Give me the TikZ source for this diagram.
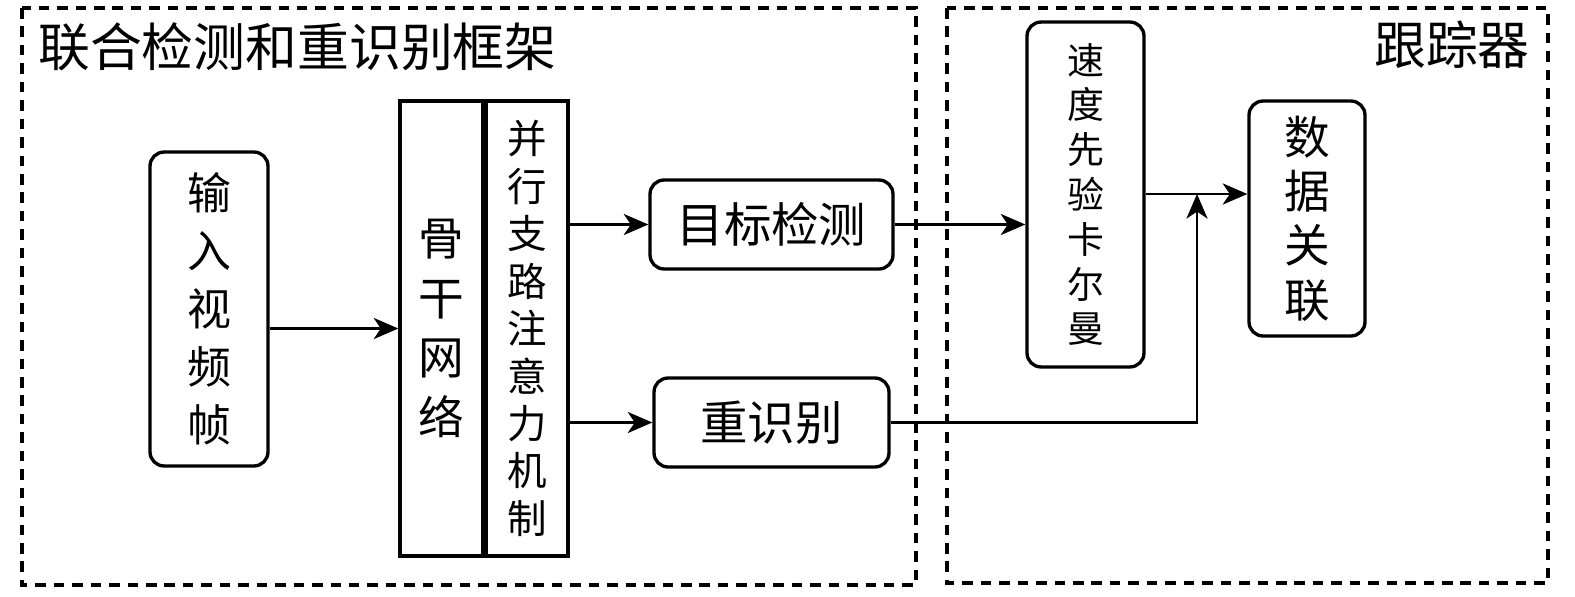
\documentclass[tikz,border=0pt]{standalone}
\usepackage{fontspec}
\newfontfamily\cjk{Noto Sans CJK SC}
\usetikzlibrary{arrows.meta}

\begin{document}
\begin{tikzpicture}[x=0.02cm, y=-0.02cm]
\tikzstyle{box} = [rectangle, rounded corners=8pt, draw = black, line width=1.9pt, align=center, inner sep=0pt]
\tikzstyle{bar} = [rectangle, draw = black, line width=1.9pt, align=center, inner sep=0pt]
\tikzstyle{edge} = [-{Stealth[length=14pt, width=12pt, inset=4pt]}, line width=1.6pt]
\tikzstyle{frame} = [line width=2pt, dash pattern=on 6pt off 4.5pt]
\useasboundingbox (0,0) rectangle (1575,596);
% dashed frames
\draw[frame] (22,8) rectangle (916,585);
\draw[frame] (947,8) rectangle (1548,583);
\node[anchor=west, font=\cjk\fontsize{29.5}{30}\selectfont] (jdetitle) at (32,47) {联合检测和重识别框架};
\node[anchor=east, font=\cjk\fontsize{29.5}{30}\selectfont] (trktitle) at (1536,45) {跟踪器};
% detection and re-id part
\node[box, minimum width=2.36cm, minimum height=6.28cm, font=\cjk\fontsize{25}{33}\selectfont] (input) at (209,309) {输\\入\\视\\频\\帧};
\node[bar, minimum width=1.66cm, minimum height=9.1cm, font=\cjk\fontsize{26}{34}\selectfont] (backbone) at (441.5,328.5) {骨\\干\\网\\络};
\node[bar, minimum width=1.64cm, minimum height=9.1cm, font=\cjk\fontsize{22.5}{27}\selectfont] (branch) at (527,328.5) {并\\行\\支\\路\\注\\意\\力\\机\\制};
\node[box, minimum width=4.86cm, minimum height=1.78cm, font=\cjk\fontsize{27}{30}\selectfont] (det) at (771.5,224.5) {目标检测};
\node[box, minimum width=4.7cm, minimum height=1.78cm, font=\cjk\fontsize{27}{30}\selectfont] (reid) at (771.5,422.5) {重识别};
% tracker part
\node[box, minimum width=2.34cm, minimum height=6.9cm, font=\cjk\fontsize{21}{25.5}\selectfont] (kalman) at (1085.5,194.5) {速\\度\\先\\验\\卡\\尔\\曼};
\node[box, minimum width=2.32cm, minimum height=4.7cm, font=\cjk\fontsize{26}{31}\selectfont] (assoc) at (1307,218.5) {数\\据\\关\\联};
\coordinate (merge) at (1197,194);
% connectors
\draw[edge] (input.east |- backbone.west) -- (backbone.west);
\draw[edge] (branch.east |- det.west) -- (det.west);
\draw[edge] (branch.east |- reid.west) -- (reid.west);
\draw[edge] (det.east) -- (det.east -| kalman.west);
\draw[edge] (kalman.east |- merge) -- (merge -| assoc.west);
\draw[edge] (reid.east) -| (merge);
\end{tikzpicture}
\end{document}
